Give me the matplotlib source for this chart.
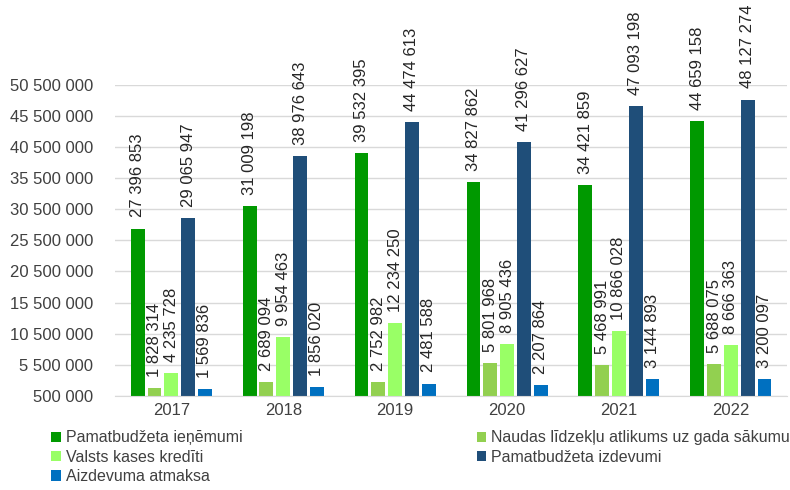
import numpy as np
import matplotlib.pyplot as plt
from matplotlib.ticker import FuncFormatter

years = ["2017", "2018", "2019", "2020", "2021", "2022"]
series_names = [
    "Pamatbudžeta ieņēmumi",
    "Naudas līdzekļu atlikums uz gada sākumu",
    "Valsts kases kredīti",
    "Pamatbudžeta izdevumi",
    "Aizdevuma atmaksa",
]
ienemumi = [27396853, 31009198, 39532395, 34827862, 34421859, 44659158]
atlikums = [1828314, 2689094, 2752982, 5801968, 5468991, 5688075]
kredits = [4235728, 9954463, 12234250, 8905436, 10866028, 8666363]
izdevumi = [29065947, 38976643, 44474613, 41296627, 47093198, 48127274]
atmaksa = [1569836, 1856020, 2481588, 2207864, 3144893, 3200097]

colors = ["#009900", "#92D050", "#99FF66", "#1F4E79", "#0070C0"]
FONT = "Liberation Sans"
FONT_SIZE = 12
TEXT_COLOR = "#404040"


def fmt(v):
    return f"{int(v):,}".replace(",", " ")


fig = plt.figure(figsize=(7.9, 4.9), dpi=100)
ax = fig.add_axes([0.146, 0.192, 0.85, 0.635])

data = [ienemumi, atlikums, kredits, izdevumi, atmaksa]
index = np.arange(len(years))
bar_width = 0.124
pitch = 0.150
handles = []
for i, (vals, color, name) in enumerate(zip(data, colors, series_names)):
    pos = index + (i - 2) * pitch
    bars = ax.bar(pos, vals, bar_width, color=color, label=name, zorder=2)
    handles.append(bars)
    for x, v in zip(pos, vals):
        ax.annotate(
            fmt(v),
            (x, v),
            xytext=(0, 8),
            textcoords="offset points",
            rotation=90,
            ha="center",
            va="bottom",
            fontsize=FONT_SIZE,
            family=FONT,
            color="#262626",
            annotation_clip=False,
        )

ax.set_ylim(500000, 50500000)
ax.set_xlim(-0.5, len(years) - 0.5)
ax.set_yticks(np.arange(500000, 50500001, 5000000))
ax.yaxis.set_major_formatter(FuncFormatter(lambda v, p: fmt(v)))
ax.set_xticks(index)
ax.set_xticklabels(years)
ax.tick_params(axis="both", length=0, labelsize=FONT_SIZE, colors=TEXT_COLOR)
ax.tick_params(axis="y", pad=16)
ax.tick_params(axis="x", pad=5)
for lbl in ax.get_xticklabels() + ax.get_yticklabels():
    lbl.set_family(FONT)
ax.grid(axis="y", color="#D9D9D9", linewidth=1, zorder=0)
ax.set_axisbelow(True)
for s in ["left", "right", "top"]:
    ax.spines[s].set_visible(False)
ax.spines["bottom"].set_color("#D9D9D9")

order = [0, 2, 4, 1, 3]
leg = fig.legend(
    [handles[k] for k in order],
    [series_names[k] for k in order],
    ncol=2,
    loc="upper left",
    bbox_to_anchor=(0.065, 0.0, 0.935, 0.122),
    bbox_transform=fig.transFigure,
    mode="expand",
    frameon=False,
    prop={"family": FONT, "size": 11.5},
    handlelength=0.6,
    handleheight=0.6,
    handletextpad=0.3,
    labelspacing=0.28,
    borderaxespad=0,
    borderpad=0,
)
for t in leg.get_texts():
    t.set_color(TEXT_COLOR)

plt.savefig("out.png", dpi=100)
